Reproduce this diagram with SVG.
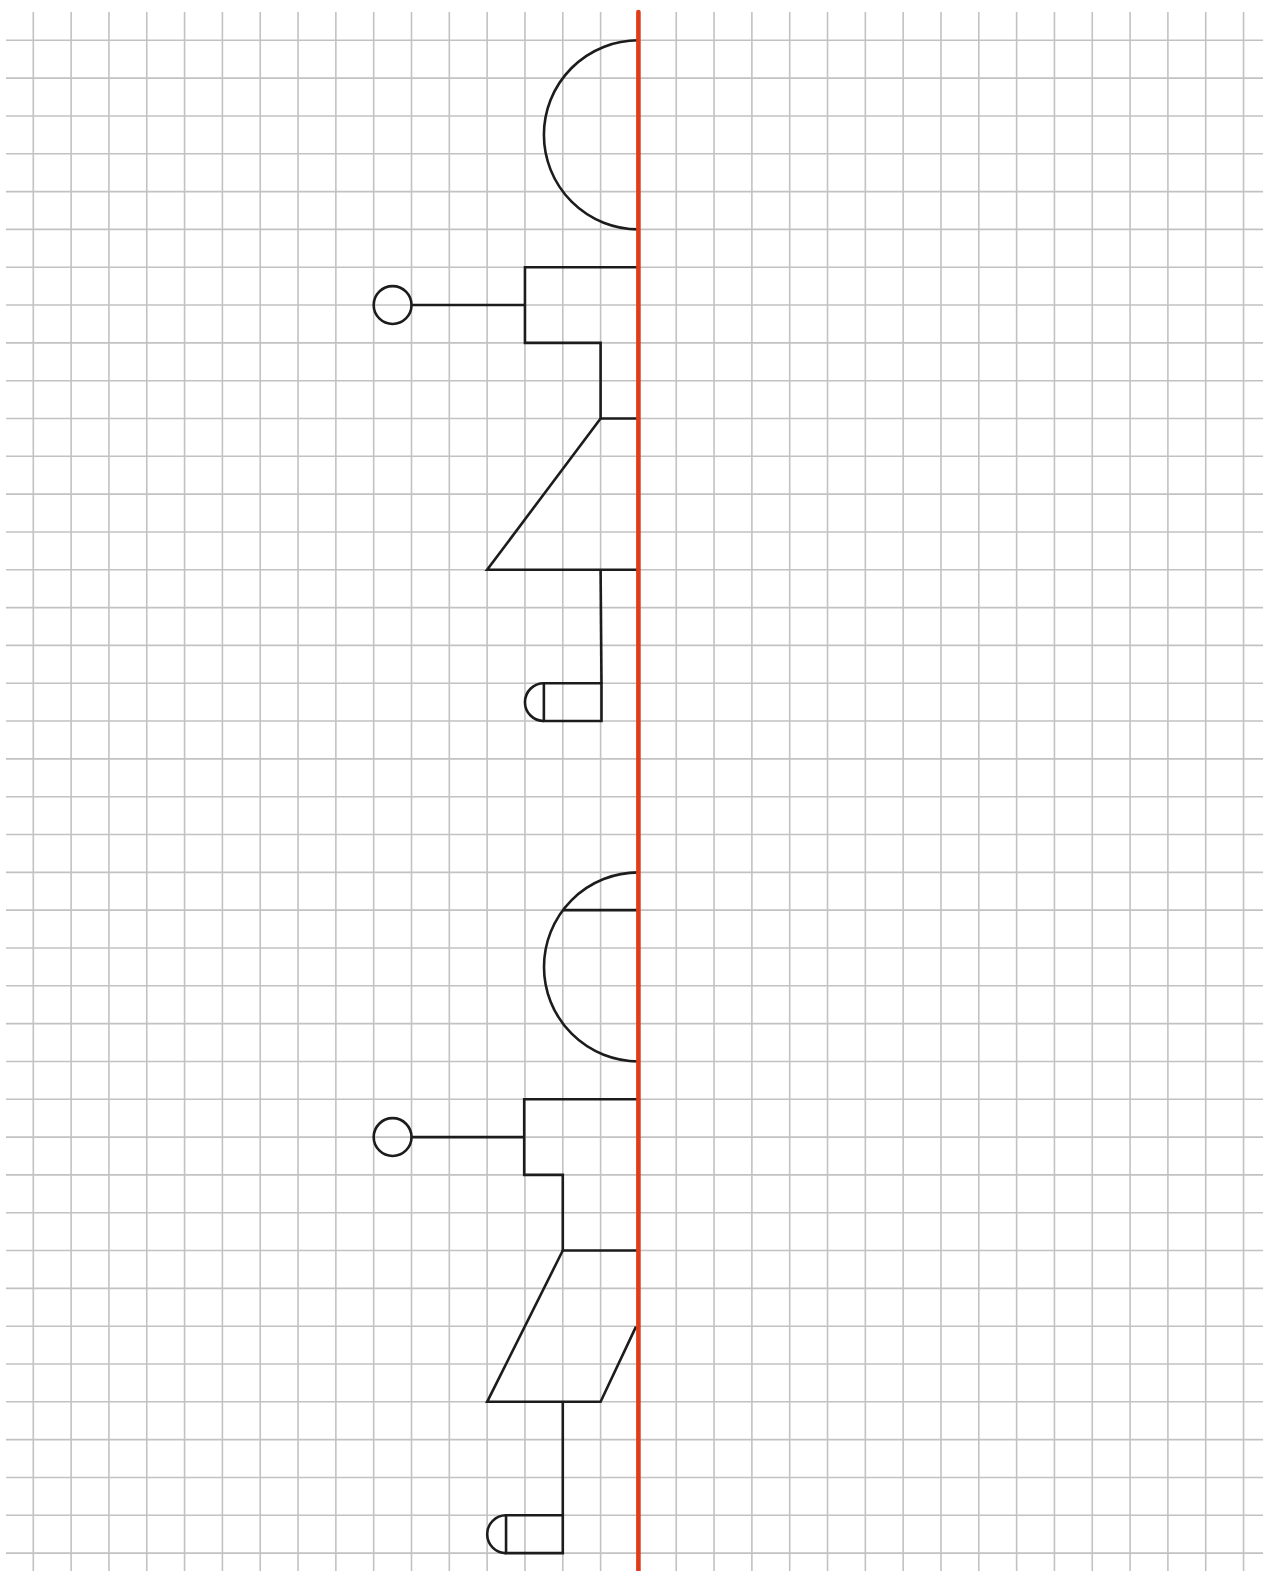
<svg xmlns="http://www.w3.org/2000/svg" width="1265" height="1571" viewBox="0 0 1265 1571">
<style>
.grid{stroke:#c2c2c2;stroke-width:1.6;fill:none}
.ink{stroke:#1c1c1c;stroke-width:2.6;fill:none;stroke-linejoin:miter}
.axis{stroke:#e03c1a;stroke-width:4.6;fill:none;stroke-linecap:round}
</style>
<rect width="1265" height="1571" fill="#ffffff"/>
<g id="grid">
<path class="grid" d="M33.3 12V1571M71.12 12V1571M108.94 12V1571M146.76 12V1571M184.58 12V1571M222.4 12V1571M260.22 12V1571M298.04 12V1571M335.86 12V1571M373.68 12V1571M411.5 12V1571M449.32 12V1571M487.14 12V1571M524.96 12V1571M562.78 12V1571M600.6 12V1571M638.42 12V1571M676.24 12V1571M714.06 12V1571M751.88 12V1571M789.7 12V1571M827.52 12V1571M865.34 12V1571M903.16 12V1571M940.98 12V1571M978.8 12V1571M1016.62 12V1571M1054.44 12V1571M1092.26 12V1571M1130.08 12V1571M1167.9 12V1571M1205.72 12V1571M1243.54 12V1571"/>
<path class="grid" d="M6 40.3H1263M6 78.12H1263M6 115.94H1263M6 153.76H1263M6 191.58H1263M6 229.4H1263M6 267.22H1263M6 305.04H1263M6 342.86H1263M6 380.68H1263M6 418.5H1263M6 456.32H1263M6 494.14H1263M6 531.96H1263M6 569.78H1263M6 607.6H1263M6 645.42H1263M6 683.24H1263M6 721.06H1263M6 758.88H1263M6 796.7H1263M6 834.52H1263M6 872.34H1263M6 910.16H1263M6 947.98H1263M6 985.8H1263M6 1023.62H1263M6 1061.44H1263M6 1099.26H1263M6 1137.08H1263M6 1174.9H1263M6 1212.72H1263M6 1250.54H1263M6 1288.36H1263M6 1326.18H1263M6 1364H1263M6 1401.82H1263M6 1439.64H1263M6 1477.46H1263M6 1515.28H1263M6 1553.1H1263"/>
</g>
<g id="figure-top">
<g id="top-head"><path class="ink" d="M638.42 40.3A94.55 94.55 0 0 0 638.42 229.4"/></g>
<g id="top-step"><path class="ink" d="M638.42 267.22H524.96V342.86H600.6V418.5H638.42"/></g>
<g id="top-hand"><circle class="ink" cx="392.6" cy="305.04" r="18.91"/></g>
<g id="top-body"><path class="ink" d="M600.6 418.5L487.14 569.78H638.42"/></g>
<g id="top-foot"><path class="ink" d="M601.5 683.24H543.87V721.06H601.5Z"/><path class="ink" d="M543.87 683.24A18.91 18.91 0 0 0 543.87 721.06"/></g>
</g>
<g id="figure-bottom">
<g id="bottom-head"><path class="ink" d="M638.42 872.34A94.55 94.55 0 0 0 638.42 1061.44"/><path class="ink" d="M562.78 910.16H638.42"/></g>
<g id="bottom-step"><path class="ink" d="M638.42 1099.26H524.2V1174.9H562.78V1250.54H638.42"/></g>
<g id="bottom-hand"><circle class="ink" cx="392.6" cy="1137.08" r="18.91"/></g>
<g id="bottom-body"><path class="ink" d="M562.78 1250.54L487.14 1401.82H600.6L636 1326.6"/></g>
<g id="bottom-foot"><path class="ink" d="M562.78 1515.28H506.05V1553.1H562.78Z"/><path class="ink" d="M506.05 1515.28A18.91 18.91 0 0 0 506.05 1553.1"/></g>
</g>
<g id="connectors">
<path class="ink" d="M411.5 305.04H524.96"/>
<path class="ink" d="M600.6 569.78L601.5 683.24"/>
<path class="ink" d="M411.5 1137.08H524.2"/>
<path class="ink" d="M562.78 1401.82V1515.28"/>
</g>
<g id="axis"><path class="axis" d="M638.42 12V1571"/></g>
</svg>
